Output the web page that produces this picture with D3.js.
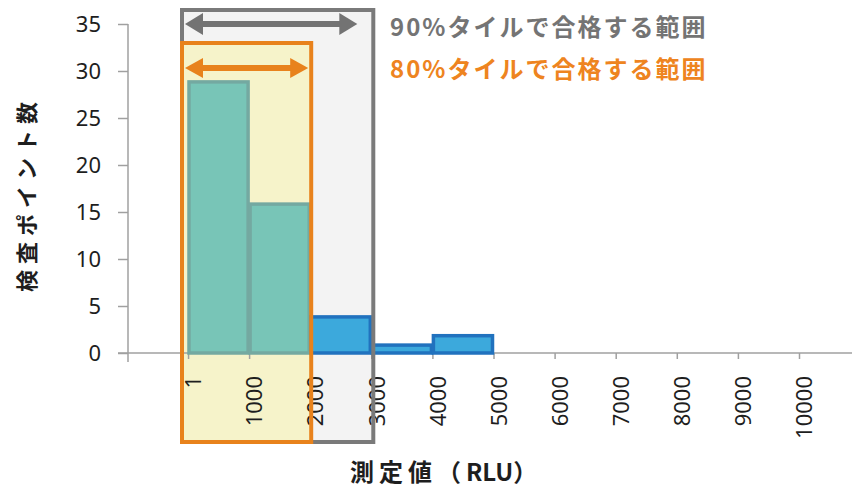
<!DOCTYPE html>
<html>
<head>
<meta charset="utf-8">
<script src="https://cdn.jsdelivr.net/npm/d3@7"></script>
<style>
  html, body { margin: 0; padding: 0; background: #fff; }
  svg { display: block; }
  .tick text { font-family: "Noto Sans", "Open Sans", sans-serif; }
</style>
</head>
<body>
<svg id="chart" width="852" height="490"></svg>
<script>
// Histogram of measured values (RLU) per test point
const binStarts = [1, 1000, 2000, 3000, 4000];
const binEnds   = [1000, 2000, 3000, 4000, 5000];
const counts    = [29, 16, 4, 1, 2];

const xTickValues = [1, 1000, 2000, 3000, 4000, 5000, 6000, 7000, 8000, 9000, 10000];
const yTickValues = [0, 5, 10, 15, 20, 25, 30, 35];

// Acceptance ranges by percentile
const range90 = [1, 3000];
const range80 = [1, 2000];
const label90 = "90%タイルで合格する範囲";
const label80 = "80%タイルで合格する範囲";

const yTitle = "検査ポイント数";
const xTitleParts = ["測定値（", "RLU", "）"];

const svg = d3.select("#chart");
const jp = '"Noto Sans CJK JP", "Noto Sans", sans-serif';

const x = d3.scaleLinear().domain([0, 10000]).range([188, 799]);
const y = d3.scaleLinear().domain([0, 35]).range([353, 24]);

const axisLeftX = 128;
const boxPad = 6;
const boxBottom = 442;

// Range boxes (fills)
const box90 = { x0: x(0) - boxPad, x1: x(range90[1]) + 2, top: 10 };
const box80 = { x0: x(0) - boxPad, x1: x(range80[1]) + 1, top: 43 };

svg.append("rect")
  .attr("x", box90.x0).attr("y", box90.top)
  .attr("width", box90.x1 - box90.x0).attr("height", boxBottom - box90.top)
  .attr("fill", "#f3f3f3");
svg.append("rect")
  .attr("x", box80.x0).attr("y", box80.top)
  .attr("width", box80.x1 - box80.x0).attr("height", boxBottom - box80.top)
  .attr("fill", "#f6f3ca");

// Axes
const xAxis = svg.append("g")
  .attr("transform", `translate(0,${y(0)})`)
  .call(d3.axisBottom(x).tickValues(xTickValues).tickSize(6).tickPadding(0)
        .tickFormat(d => String(d)));
xAxis.select(".domain").remove();
xAxis.selectAll(".tick line").attr("stroke", "#a0a0a0").attr("stroke-width", 1.5);
xAxis.selectAll(".tick text")
  .attr("transform", "rotate(-90)")
  .attr("text-anchor", "end")
  .attr("x", -23).attr("y", 5).attr("dy", "0.35em")
  .attr("fill", "#1e1e1e").attr("font-size", 22);
xAxis.append("line")
  .attr("x1", axisLeftX - 10).attr("x2", 852)
  .attr("y1", 0).attr("y2", 0)
  .attr("stroke", "#a0a0a0").attr("stroke-width", 1.5);

const yAxis = svg.append("g")
  .attr("transform", `translate(${axisLeftX},0)`)
  .call(d3.axisLeft(y).tickValues(yTickValues).tickSize(10).tickPadding(17));
yAxis.select(".domain").remove();
yAxis.selectAll(".tick line").attr("stroke", "#a0a0a0").attr("stroke-width", 1.5);
yAxis.selectAll(".tick text").attr("fill", "#1e1e1e").attr("font-size", 22);
yAxis.append("line")
  .attr("x1", 0).attr("x2", 0)
  .attr("y1", y(35)).attr("y2", y(0) + 9)
  .attr("stroke", "#a0a0a0").attr("stroke-width", 1.5);

// Bars
const bins = binStarts.map((s, i) => ({ s, e: binEnds[i], c: counts[i] }));
const inside80 = b => b.e <= range80[1];
svg.append("g").selectAll("rect")
  .data(bins).join("rect")
  .attr("x", d => x(d.s === 1 ? 0 : d.s) + 1)
  .attr("y", d => y(d.c) + 1.5)
  .attr("width", d => x(d.e) - x(d.s === 1 ? 0 : d.s) - 2)
  .attr("height", d => y(0) - y(d.c) - 1.5)
  .attr("fill", d => inside80(d) ? "#78c5b7" : "#3ca9dc")
  .attr("stroke", d => inside80(d) ? "#74a9a1" : "#2172be")
  .attr("stroke-width", 3.5);

// Range box outlines
svg.append("rect")
  .attr("x", box90.x0).attr("y", box90.top)
  .attr("width", box90.x1 - box90.x0).attr("height", boxBottom - box90.top)
  .attr("fill", "none").attr("stroke", "#7a7a7a").attr("stroke-width", 4);
svg.append("rect")
  .attr("x", box80.x0).attr("y", box80.top)
  .attr("width", box80.x1 - box80.x0).attr("height", boxBottom - box80.top)
  .attr("fill", "none").attr("stroke", "#e8821c").attr("stroke-width", 4);

// Double-headed arrows
function arrow(x0, x1, yy, color, shaft, headLen, headHalf) {
  const g = svg.append("g");
  g.append("line")
    .attr("x1", x0 + headLen - 1).attr("x2", x1 - headLen + 1)
    .attr("y1", yy).attr("y2", yy)
    .attr("stroke", color).attr("stroke-width", shaft);
  g.append("path")
    .attr("d", `M${x0},${yy} L${x0 + headLen},${yy - headHalf} L${x0 + headLen},${yy + headHalf} Z`)
    .attr("fill", color);
  g.append("path")
    .attr("d", `M${x1},${yy} L${x1 - headLen},${yy - headHalf} L${x1 - headLen},${yy + headHalf} Z`)
    .attr("fill", color);
}
arrow(x(0) - 3, x(range90[1]) - 14, 24, "#737373", 6, 18, 11);
arrow(x(0) - 3, x(range80[1]) - 2, 68, "#e8821c", 6, 18, 10);

// Legend text
svg.append("text").attr("x", 390).attr("y", 36)
  .attr("font-family", jp).attr("font-weight", "bold").attr("font-size", 24)
  .attr("letter-spacing", 2)
  .attr("fill", "#747474").text(label90);
svg.append("text").attr("x", 390).attr("y", 78)
  .attr("font-family", jp).attr("font-weight", "bold").attr("font-size", 24)
  .attr("letter-spacing", 2)
  .attr("fill", "#ee8420").text(label80);

// Axis titles
svg.append("text")
  .attr("transform", "translate(27,194) rotate(-90)")
  .attr("text-anchor", "middle").attr("dy", "0.35em")
  .attr("font-family", jp).attr("font-weight", "bold").attr("font-size", 22)
  .attr("letter-spacing", 6)
  .attr("fill", "#1e1e1e").text(yTitle);
const xt = svg.append("text")
  .attr("x", 350).attr("y", 481)
  .attr("font-family", jp).attr("font-weight", "bold").attr("font-size", 24)
  .attr("fill", "#1e1e1e");
xt.append("tspan").attr("letter-spacing", 5).text(xTitleParts[0]);
xt.append("tspan").attr("letter-spacing", 0).text(xTitleParts[1]);
xt.append("tspan").attr("letter-spacing", 0).text(xTitleParts[2]);
</script>
</body>
</html>
